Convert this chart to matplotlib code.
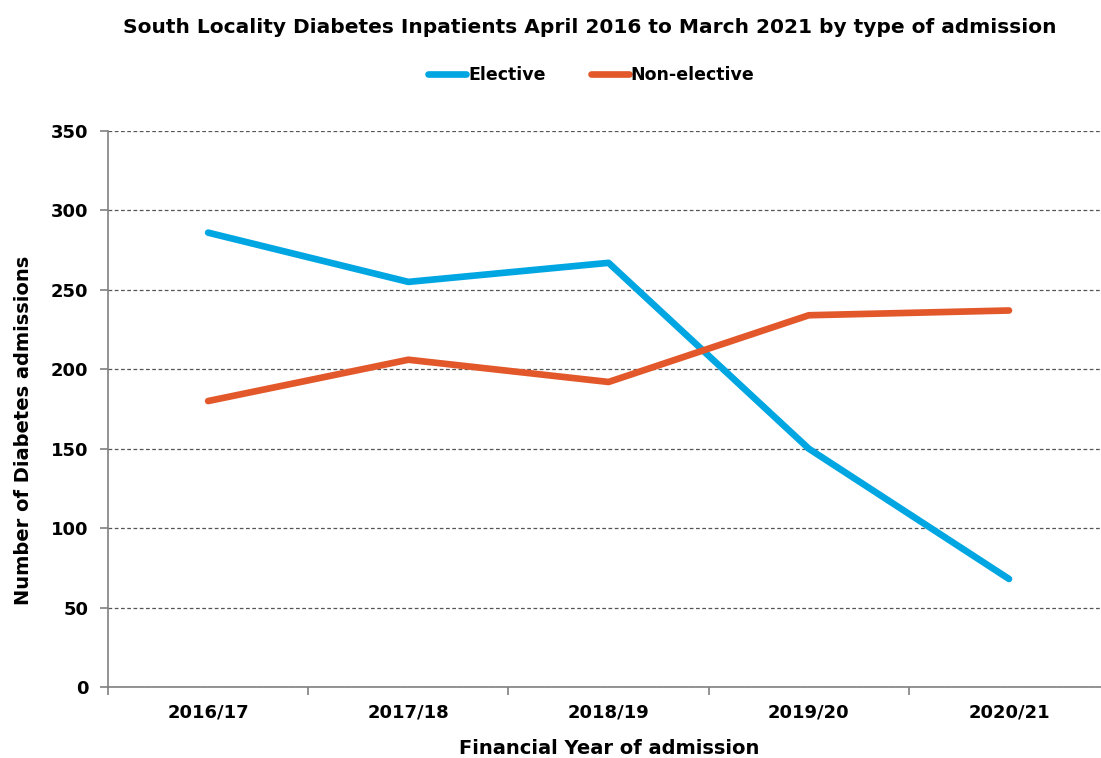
import matplotlib.pyplot as plt
from matplotlib.ticker import FixedLocator

plt.rcParams['font.family'] = ['DejaVu Sans']

years = ["2016/17", "2017/18", "2018/19", "2019/20", "2020/21"]
elective = [286, 255, 267, 150, 68]
non_elective = [180, 206, 192, 234, 237]

fig = plt.figure(figsize=(11.01, 7.58), dpi=100)
ax = fig.add_axes([0.0981, 0.0937, 0.902, 0.7335])

x = range(len(years))
ax.plot(x, elective, color="#00A6E2", lw=4.8, solid_capstyle="round",
        solid_joinstyle="round", label="Elective", zorder=3)
ax.plot(x, non_elective, color="#E2582A", lw=4.8, solid_capstyle="round",
        solid_joinstyle="round", label="Non-elective", zorder=3)

ax.set_ylim(0, 350)
ax.set_xlim(-0.5, 4.46)
ax.set_yticks(range(0, 351, 50))
ax.set_xticks(list(x))
ax.set_xticklabels(years)
ax.xaxis.set_minor_locator(FixedLocator([-0.5, 0.5, 1.5, 2.5, 3.5]))
ax.tick_params(axis="x", which="major", length=0, pad=12, labelsize=13)
ax.tick_params(axis="x", which="minor", length=6, color="#808080", width=1.2)
ax.tick_params(axis="y", length=6, color="#808080", width=1.2, pad=8, labelsize=13)
for lab in ax.get_xticklabels() + ax.get_yticklabels():
    lab.set_fontweight("bold")

ax.grid(axis="y", linestyle=(0, (3, 2)), color="#555555", lw=0.9)
ax.set_axisbelow(True)
for s in ["top", "right"]:
    ax.spines[s].set_visible(False)
for s in ["left", "bottom"]:
    ax.spines[s].set_color("#808080")
    ax.spines[s].set_linewidth(1.2)

ax.set_xlabel("Financial Year of admission", fontsize=14, fontweight="bold")
ax.xaxis.set_label_coords(0.505, -0.094)
ax.set_ylabel("Number of Diabetes admissions", fontsize=14, fontweight="bold")
ax.yaxis.set_label_coords(-0.076, 0.462)

fig.suptitle("South Locality Diabetes Inpatients April 2016 to March 2021 by type of admission",
             x=0.536, y=0.976, fontsize=14.5, fontweight="bold")
fig.legend(loc="center", bbox_to_anchor=(0.537, 0.901), ncol=2, frameon=False,
           prop={"weight": "bold", "size": 12.5}, handlelength=2.2,
           handletextpad=0.1, columnspacing=2.6)

fig.savefig("out.png", dpi=100)
